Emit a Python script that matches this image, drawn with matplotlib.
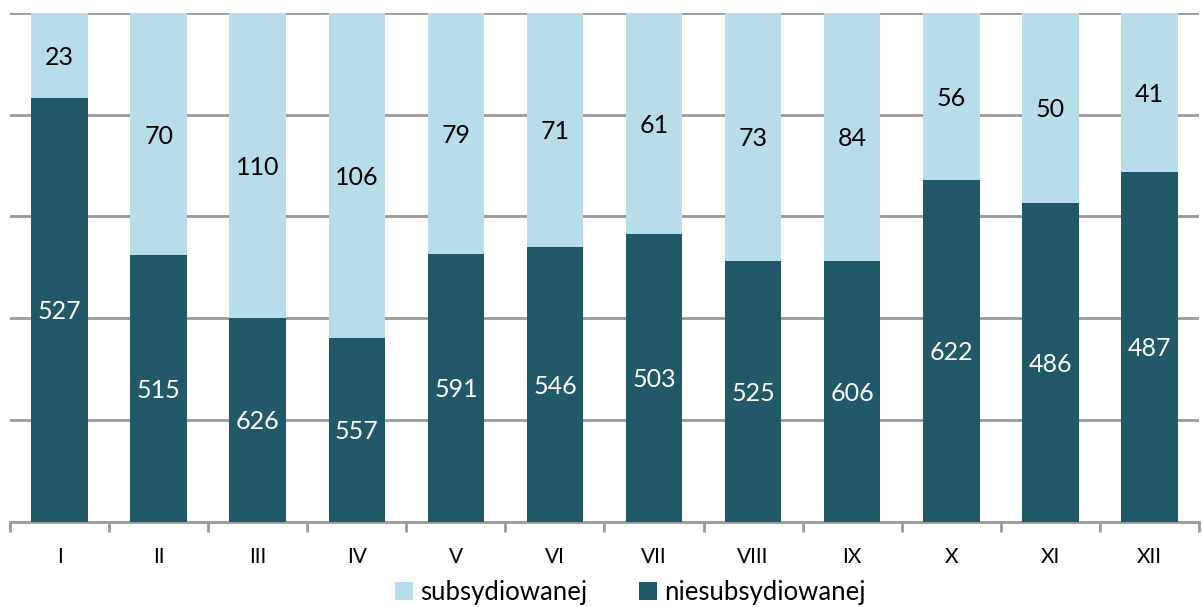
import matplotlib
matplotlib.use("Agg")
import matplotlib.pyplot as plt
import numpy as np

plt.rcParams['font.family'] = ['Lato', 'DejaVu Sans']

months = ["I", "II", "III", "IV", "V", "VI", "VII", "VIII", "IX", "X", "XI", "XII"]
# share of bar height (fraction of 100%)
share_niesub = [0.832, 0.523, 0.401, 0.3615, 0.526, 0.540, 0.566, 0.512, 0.512, 0.671, 0.627, 0.688]
# data labels shown on the bars
labels_niesub = [527, 515, 626, 557, 591, 546, 503, 525, 606, 622, 486, 487]
labels_sub = [23, 70, 110, 106, 79, 71, 61, 73, 84, 56, 50, 41]

light = "#B7DDE8"
dark = "#215968"

fig = plt.figure(figsize=(12.03, 6.07), dpi=100)
ax = fig.add_axes([10/1203, 1-521.7/607, (1199-10)/1203, (521.7-12.7)/607])

x = np.arange(len(months))
dn = np.array(share_niesub)
ds = 1 - dn
w = 0.57
ax.bar(x, dn, w, color=dark, label="niesubsydiowanej", zorder=3)
ax.bar(x, ds, w, bottom=dn, color=light, label="subsydiowanej", zorder=3)

for i in range(len(months)):
    ax.text(x[i], dn[i] / 2, str(labels_niesub[i]), ha='center', va='center_baseline',
            color='white', fontsize=18, zorder=4)
    ax.text(x[i], dn[i] + ds[i] / 2, str(labels_sub[i]), ha='center', va='center_baseline',
            color='black', fontsize=18, zorder=4)

ax.set_xlim(-0.5, len(months) - 0.5)
ax.set_ylim(0, 1)
ax.set_yticks([0.2, 0.4, 0.6, 0.8, 1.0])
ax.yaxis.grid(True, color='#999999', linewidth=2, zorder=0)
ax.tick_params(axis='y', left=False, labelleft=False)
for s in ['top', 'right', 'left']:
    ax.spines[s].set_visible(False)
ax.spines['bottom'].set_color('#999999')
ax.spines['bottom'].set_linewidth(2)

ax.set_xticks(x)
ax.set_xticklabels(months, fontsize=15)
ax.tick_params(axis='x', which='major', length=0, pad=18)
ax.set_xticks(np.arange(-0.5, len(months)), minor=True)
ax.tick_params(axis='x', which='minor', length=7, width=2, color='#999999')

handles, lbls = ax.get_legend_handles_labels()
leg = fig.legend(handles[::-1], lbls[::-1], loc='center', bbox_to_anchor=(0.524, 0.024),
                 ncol=2, frameon=False, fontsize=18.5, handlelength=0.7, handleheight=0.7,
                 handletextpad=0.3, columnspacing=2.0)

fig.savefig("out.png", dpi=100)
